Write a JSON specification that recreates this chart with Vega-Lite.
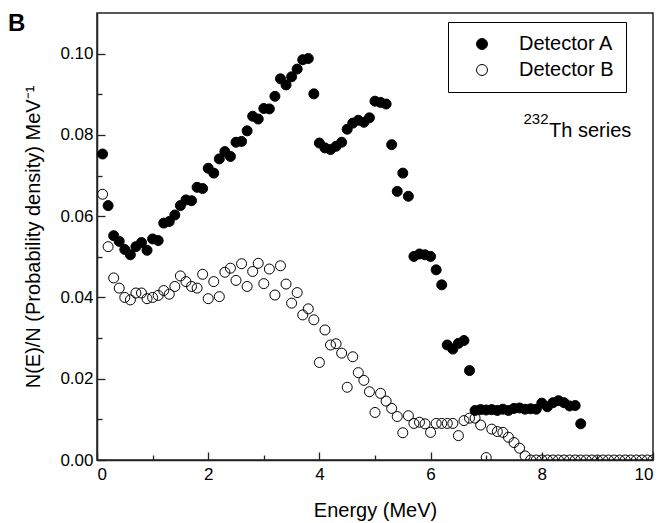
{
  "$schema": "https://vega.github.io/schema/vega-lite/v6.json",
  "width": 556,
  "height": 447,
  "autosize": {"type": "none"},
  "padding": {"left": 97, "top": 13, "right": 6, "bottom": 63},
  "config": {
    "font": "Liberation Sans",
    "view": {"stroke": "#222", "strokeWidth": 1.5},
    "axis": {"grid": false, "domainColor": "#222", "domainWidth": 1.5, "tickColor": "#222", "tickWidth": 1.3, "labelColor": "black", "titleColor": "black", "labelFontSize": 17, "titleFontSize": 20, "titleFontWeight": "normal", "labelFont": "Liberation Sans", "titleFont": "Liberation Sans"}
  },
  "title": {"text": "B", "anchor": "start", "frame": "group", "dx": -89, "dy": 42, "offset": 0, "baseline": "alphabetic", "fontSize": 24, "fontWeight": "bold", "font": "Liberation Sans", "color": "black"},
  "data": {"values": [
    {"E":0.1,"v":0.0654,"s":"Detector B"},{"E":0.2,"v":0.0525,"s":"Detector B"},{"E":0.3,"v":0.0448,"s":"Detector B"},{"E":0.4,"v":0.0423,"s":"Detector B"},{"E":0.5,"v":0.04,"s":"Detector B"},{"E":0.6,"v":0.0394,"s":"Detector B"},{"E":0.7,"v":0.0411,"s":"Detector B"},{"E":0.8,"v":0.0411,"s":"Detector B"},{"E":0.9,"v":0.0397,"s":"Detector B"},{"E":1.0,"v":0.04,"s":"Detector B"},
    {"E":1.1,"v":0.0405,"s":"Detector B"},{"E":1.2,"v":0.0417,"s":"Detector B"},{"E":1.3,"v":0.0408,"s":"Detector B"},{"E":1.4,"v":0.0427,"s":"Detector B"},{"E":1.5,"v":0.0453,"s":"Detector B"},{"E":1.6,"v":0.0439,"s":"Detector B"},{"E":1.7,"v":0.0427,"s":"Detector B"},{"E":1.8,"v":0.0423,"s":"Detector B"},{"E":1.9,"v":0.0457,"s":"Detector B"},{"E":2.0,"v":0.0397,"s":"Detector B"},
    {"E":2.1,"v":0.0439,"s":"Detector B"},{"E":2.2,"v":0.0402,"s":"Detector B"},{"E":2.3,"v":0.0462,"s":"Detector B"},{"E":2.4,"v":0.0472,"s":"Detector B"},{"E":2.5,"v":0.0442,"s":"Detector B"},{"E":2.6,"v":0.0483,"s":"Detector B"},{"E":2.7,"v":0.0427,"s":"Detector B"},{"E":2.8,"v":0.0464,"s":"Detector B"},{"E":2.9,"v":0.0484,"s":"Detector B"},{"E":3.0,"v":0.0434,"s":"Detector B"},
    {"E":3.1,"v":0.047,"s":"Detector B"},{"E":3.2,"v":0.0406,"s":"Detector B"},{"E":3.3,"v":0.0478,"s":"Detector B"},{"E":3.4,"v":0.0433,"s":"Detector B"},{"E":3.5,"v":0.0386,"s":"Detector B"},{"E":3.6,"v":0.0412,"s":"Detector B"},{"E":3.7,"v":0.0357,"s":"Detector B"},{"E":3.8,"v":0.0372,"s":"Detector B"},{"E":3.9,"v":0.0345,"s":"Detector B"},{"E":4.0,"v":0.024,"s":"Detector B"},
    {"E":4.1,"v":0.032,"s":"Detector B"},{"E":4.2,"v":0.0283,"s":"Detector B"},{"E":4.3,"v":0.0286,"s":"Detector B"},{"E":4.4,"v":0.0263,"s":"Detector B"},{"E":4.5,"v":0.0179,"s":"Detector B"},{"E":4.6,"v":0.0254,"s":"Detector B"},{"E":4.7,"v":0.0215,"s":"Detector B"},{"E":4.8,"v":0.0196,"s":"Detector B"},{"E":4.9,"v":0.0168,"s":"Detector B"},{"E":5.0,"v":0.0117,"s":"Detector B"},
    {"E":5.1,"v":0.0164,"s":"Detector B"},{"E":5.2,"v":0.0145,"s":"Detector B"},{"E":5.3,"v":0.0127,"s":"Detector B"},{"E":5.4,"v":0.0107,"s":"Detector B"},{"E":5.5,"v":0.0067,"s":"Detector B"},{"E":5.6,"v":0.0109,"s":"Detector B"},{"E":5.7,"v":0.009,"s":"Detector B"},{"E":5.8,"v":0.0093,"s":"Detector B"},{"E":5.9,"v":0.0089,"s":"Detector B"},{"E":6.0,"v":0.0068,"s":"Detector B"},
    {"E":6.1,"v":0.009,"s":"Detector B"},{"E":6.2,"v":0.009,"s":"Detector B"},{"E":6.3,"v":0.009,"s":"Detector B"},{"E":6.4,"v":0.009,"s":"Detector B"},{"E":6.5,"v":0.006,"s":"Detector B"},{"E":6.6,"v":0.0097,"s":"Detector B"},{"E":6.7,"v":0.0103,"s":"Detector B"},{"E":6.8,"v":0.0103,"s":"Detector B"},{"E":6.9,"v":0.0086,"s":"Detector B"},{"E":7.0,"v":0.0006,"s":"Detector B"},
    {"E":7.1,"v":0.0076,"s":"Detector B"},{"E":7.2,"v":0.007,"s":"Detector B"},{"E":7.3,"v":0.0068,"s":"Detector B"},{"E":7.4,"v":0.0056,"s":"Detector B"},{"E":7.5,"v":0.0043,"s":"Detector B"},{"E":7.6,"v":0.0029,"s":"Detector B"},{"E":7.7,"v":0.001,"s":"Detector B"},{"E":7.8,"v":0,"s":"Detector B"},{"E":7.9,"v":0,"s":"Detector B"},{"E":8.0,"v":0,"s":"Detector B"},
    {"E":8.1,"v":0,"s":"Detector B"},{"E":8.2,"v":0,"s":"Detector B"},{"E":8.3,"v":0,"s":"Detector B"},{"E":8.4,"v":0,"s":"Detector B"},{"E":8.5,"v":0,"s":"Detector B"},{"E":8.6,"v":0,"s":"Detector B"},{"E":8.7,"v":0,"s":"Detector B"},{"E":8.8,"v":0,"s":"Detector B"},{"E":8.9,"v":0,"s":"Detector B"},{"E":9.0,"v":0,"s":"Detector B"},
    {"E":9.1,"v":0,"s":"Detector B"},{"E":9.2,"v":0,"s":"Detector B"},{"E":9.3,"v":0,"s":"Detector B"},{"E":9.4,"v":0,"s":"Detector B"},{"E":9.5,"v":0,"s":"Detector B"},{"E":9.6,"v":0,"s":"Detector B"},{"E":9.7,"v":0,"s":"Detector B"},{"E":9.8,"v":0,"s":"Detector B"},{"E":9.9,"v":0,"s":"Detector B"},{"E":10.0,"v":0,"s":"Detector B"},
    {"E":0.1,"v":0.0753,"s":"Detector A"},{"E":0.2,"v":0.0626,"s":"Detector A"},{"E":0.3,"v":0.0552,"s":"Detector A"},{"E":0.4,"v":0.0538,"s":"Detector A"},{"E":0.5,"v":0.0518,"s":"Detector A"},{"E":0.6,"v":0.0505,"s":"Detector A"},{"E":0.7,"v":0.0525,"s":"Detector A"},{"E":0.8,"v":0.0535,"s":"Detector A"},{"E":0.9,"v":0.0516,"s":"Detector A"},{"E":1.0,"v":0.0544,"s":"Detector A"},
    {"E":1.1,"v":0.054,"s":"Detector A"},{"E":1.2,"v":0.0583,"s":"Detector A"},{"E":1.3,"v":0.0587,"s":"Detector A"},{"E":1.4,"v":0.0603,"s":"Detector A"},{"E":1.5,"v":0.0626,"s":"Detector A"},{"E":1.6,"v":0.064,"s":"Detector A"},{"E":1.7,"v":0.0638,"s":"Detector A"},{"E":1.8,"v":0.0671,"s":"Detector A"},{"E":1.9,"v":0.0668,"s":"Detector A"},{"E":2.0,"v":0.0718,"s":"Detector A"},
    {"E":2.1,"v":0.0706,"s":"Detector A"},{"E":2.2,"v":0.0741,"s":"Detector A"},{"E":2.3,"v":0.0759,"s":"Detector A"},{"E":2.4,"v":0.0747,"s":"Detector A"},{"E":2.5,"v":0.0782,"s":"Detector A"},{"E":2.6,"v":0.0784,"s":"Detector A"},{"E":2.7,"v":0.081,"s":"Detector A"},{"E":2.8,"v":0.0846,"s":"Detector A"},{"E":2.9,"v":0.0839,"s":"Detector A"},{"E":3.0,"v":0.0865,"s":"Detector A"},
    {"E":3.1,"v":0.0864,"s":"Detector A"},{"E":3.2,"v":0.0895,"s":"Detector A"},{"E":3.3,"v":0.0938,"s":"Detector A"},{"E":3.4,"v":0.0923,"s":"Detector A"},{"E":3.5,"v":0.0943,"s":"Detector A"},{"E":3.6,"v":0.0962,"s":"Detector A"},{"E":3.7,"v":0.0985,"s":"Detector A"},{"E":3.8,"v":0.0988,"s":"Detector A"},{"E":3.9,"v":0.0901,"s":"Detector A"},{"E":4.0,"v":0.078,"s":"Detector A"},
    {"E":4.1,"v":0.0768,"s":"Detector A"},{"E":4.2,"v":0.0764,"s":"Detector A"},{"E":4.3,"v":0.0772,"s":"Detector A"},{"E":4.4,"v":0.0782,"s":"Detector A"},{"E":4.5,"v":0.0814,"s":"Detector A"},{"E":4.6,"v":0.0829,"s":"Detector A"},{"E":4.7,"v":0.0836,"s":"Detector A"},{"E":4.8,"v":0.0831,"s":"Detector A"},{"E":4.9,"v":0.0842,"s":"Detector A"},{"E":5.0,"v":0.0883,"s":"Detector A"},
    {"E":5.1,"v":0.088,"s":"Detector A"},{"E":5.2,"v":0.0876,"s":"Detector A"},{"E":5.3,"v":0.0776,"s":"Detector A"},{"E":5.4,"v":0.0661,"s":"Detector A"},{"E":5.5,"v":0.0706,"s":"Detector A"},{"E":5.6,"v":0.0649,"s":"Detector A"},{"E":5.7,"v":0.0501,"s":"Detector A"},{"E":5.8,"v":0.0507,"s":"Detector A"},{"E":5.9,"v":0.0505,"s":"Detector A"},{"E":6.0,"v":0.0501,"s":"Detector A"},
    {"E":6.1,"v":0.0468,"s":"Detector A"},{"E":6.2,"v":0.0431,"s":"Detector A"},{"E":6.3,"v":0.0283,"s":"Detector A"},{"E":6.4,"v":0.0273,"s":"Detector A"},{"E":6.5,"v":0.0287,"s":"Detector A"},{"E":6.6,"v":0.0294,"s":"Detector A"},{"E":6.7,"v":0.022,"s":"Detector A"},{"E":6.8,"v":0.0122,"s":"Detector A"},{"E":6.9,"v":0.0124,"s":"Detector A"},{"E":7.0,"v":0.0123,"s":"Detector A"},
    {"E":7.1,"v":0.0124,"s":"Detector A"},{"E":7.2,"v":0.0122,"s":"Detector A"},{"E":7.3,"v":0.0125,"s":"Detector A"},{"E":7.4,"v":0.0122,"s":"Detector A"},{"E":7.5,"v":0.0127,"s":"Detector A"},{"E":7.6,"v":0.0128,"s":"Detector A"},{"E":7.7,"v":0.0125,"s":"Detector A"},{"E":7.8,"v":0.0126,"s":"Detector A"},{"E":7.9,"v":0.0125,"s":"Detector A"},{"E":8.0,"v":0.014,"s":"Detector A"},
    {"E":8.1,"v":0.0131,"s":"Detector A"},{"E":8.2,"v":0.0141,"s":"Detector A"},{"E":8.3,"v":0.0146,"s":"Detector A"},{"E":8.4,"v":0.0141,"s":"Detector A"},{"E":8.5,"v":0.0133,"s":"Detector A"},{"E":8.6,"v":0.0134,"s":"Detector A"},{"E":8.7,"v":0.0089,"s":"Detector A"}
  ]},
  "layer": [
    {
      "mark": {"type": "point", "shape": "circle", "size": 100, "stroke": "black", "strokeWidth": 1, "opacity": 1, "clip": true},
      "encoding": {
        "x": {"field": "E", "type": "quantitative", "scale": {"domain": [0, 10], "nice": false, "zero": false},
          "axis": {"title": "Energy (MeV)", "values": [0,1,2,3,4,5,6,7,8,9,10], "format": "d",
            "labelExpr": "datum.value % 2 == 0 ? datum.label : ''",
            "tickSize": {"condition": {"test": "datum.value % 2 == 1", "value": -5}, "value": -8},
            "labelPadding": 14, "titlePadding": 18}},
        "y": {"field": "v", "type": "quantitative", "scale": {"domain": [0, 0.11], "nice": false},
          "axis": {"title": "N(E)/N (Probability density) MeV⁻¹", "values": [0,0.01,0.02,0.03,0.04,0.05,0.06,0.07,0.08,0.09,0.1], "format": ".2f",
            "labelExpr": "round(datum.value*100) % 2 == 0 ? datum.label : ''",
            "tickSize": {"condition": {"test": "round(datum.value*100) % 2 == 1", "value": -5}, "value": -8},
            "labelPadding": 12, "titlePadding": 16}},
        "fill": {"field": "s", "type": "nominal", "scale": {"domain": ["Detector A", "Detector B"], "range": ["black", "transparent"]},
          "legend": {"title": null, "orient": "none", "legendX": 351, "legendY": 9, "strokeColor": "black", "fillColor": "white", "padding": 12, "symbolOffset": 12, "symbolType": "circle", "symbolSize": 120, "symbolStrokeColor": "black", "symbolStrokeWidth": 1, "labelFontSize": 20, "labelOffset": 27, "labelColor": "black", "rowPadding": 6, "labelFont": "Liberation Sans"}}
      }
    },
    {
      "data": {"values": [{"t": "Th series"}]},
      "mark": {"type": "text", "align": "left", "baseline": "alphabetic", "fontSize": 20, "font": "Liberation Sans", "color": "black"},
      "encoding": {"x": {"datum": 8.13}, "y": {"datum": 0.0795}, "text": {"field": "t"}}
    },
    {
      "data": {"values": [{"t": "232"}]},
      "mark": {"type": "text", "align": "right", "baseline": "alphabetic", "fontSize": 15, "font": "Liberation Sans", "color": "black"},
      "encoding": {"x": {"datum": 8.12}, "y": {"datum": 0.0826}, "text": {"field": "t"}}
    }
  ]
}
